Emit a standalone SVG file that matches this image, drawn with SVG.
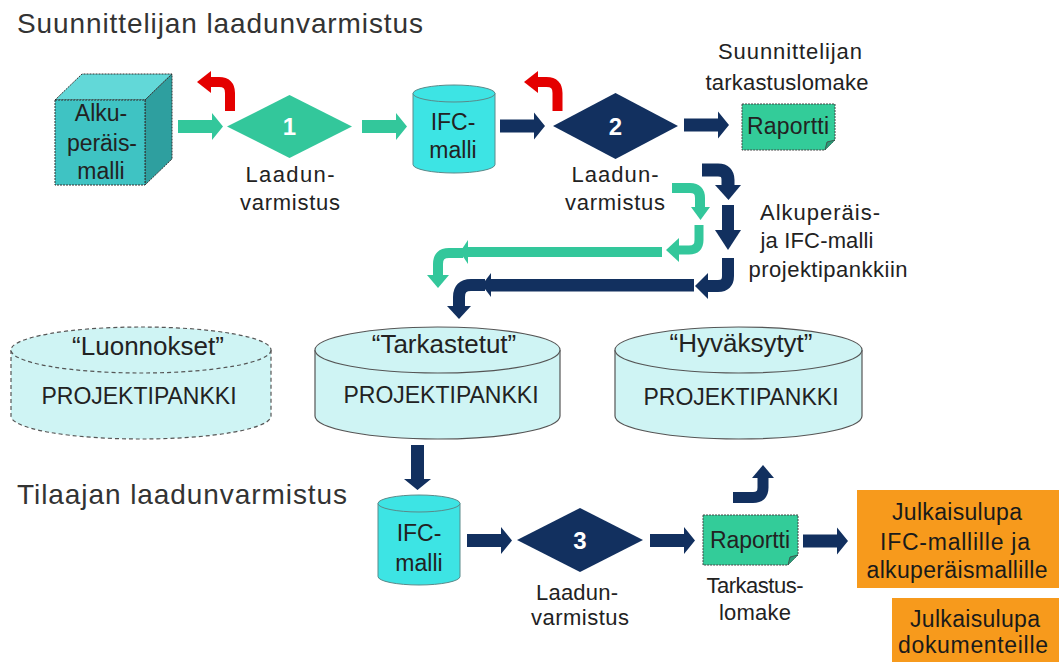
<svg xmlns="http://www.w3.org/2000/svg" xmlns:xlink="http://www.w3.org/1999/xlink" width="1059" height="662" viewBox="0 0 1059 662">
  <style>
    text { font-family: "Liberation Sans", Arial, sans-serif; fill: #222; }
    .title { font-size: 28px; fill: #333; }
    .lbl { font-size: 22px; text-anchor: middle; }
    .lbl2 { font-size: 23px; text-anchor: middle; }
    .num { font-size: 24px; font-weight: bold; fill: #fff; text-anchor: middle; }
    .bank { font-size: 26px; text-anchor: middle; }
    .bankname { font-size: 23px; text-anchor: middle; }
    .orange { fill: #f79a1c; }
    .ortext { font-size: 23px; text-anchor: middle; fill: #1a1a1a; }
    .cyl { fill: #3de4e4; stroke: #5a8a8a; stroke-width: 1; }
    .bankcyl { fill: #cff4f4; stroke: #555; stroke-width: 1.2; }
    .dash { stroke-dasharray: 4 3; }
    .green { fill: #33c79b; }
    .navy { fill: #12305f; }
    .red { fill: #e40000; }
    .gs { fill: none; stroke: #33c79b; stroke-linecap: butt; }
    .ns { fill: none; stroke: #12305f; stroke-linecap: butt; }
    .rs { fill: none; stroke: #e40000; stroke-linecap: butt; }
    .report { fill: #33cc99; stroke: #444; stroke-width: 1; stroke-dasharray: 2 1; }
  </style>
  <defs>
    <!-- straight block arrow pointing right, origin at tail centre -->
    <path id="arr" d="M0,-6.5 H34 V-13.5 L45,0 L34,13.5 V6.5 H0 Z"/>
  </defs>

  <!-- headings -->
  <text class="title" x="17" y="33" textLength="406">Suunnittelijan laadunvarmistus</text>
  <text class="title" x="17" y="504" textLength="330">Tilaajan laadunvarmistus</text>

  <!-- original model cube -->
  <g id="cube">
    <polygon points="55,100 82,74 172,74 145,100" fill="#62d8d8" stroke="#333" stroke-width="1" stroke-dasharray="2 1"/>
    <polygon points="145,100 172,74 172,159 145,185" fill="#2e9f9f" stroke="#333" stroke-width="1" stroke-dasharray="2 1"/>
    <rect x="55" y="100" width="90" height="85" fill="#3fc3c3" stroke="#333" stroke-width="1" stroke-dasharray="2 1"/>
    <text class="lbl2" x="101" y="121">Alku-</text>
    <text class="lbl2" x="102" y="151" textLength="70">peräis-</text>
    <text class="lbl2" x="101" y="179">malli</text>
  </g>

  <!-- quality check 1 -->
  <g id="check1">
    <polygon points="227,126.5 289.5,95 352,126.5 289.5,158" class="green"/>
    <text class="num" x="289.5" y="135">1</text>
    <text class="lbl" x="290" y="182" textLength="89">Laadun-</text>
    <text class="lbl" x="290" y="210" textLength="100">varmistus</text>
  </g>

  <!-- IFC model (designer) -->
  <g id="ifc1">
    <path class="cyl" d="M413,93.5 V164.5 A41,8.5 0 0 0 495,164.5 V93.5"/>
    <ellipse class="cyl" cx="454" cy="93.5" rx="41" ry="8.5"/>
    <text class="lbl2" x="453" y="130">IFC-</text>
    <text class="lbl2" x="453" y="158">malli</text>
  </g>

  <!-- quality check 2 -->
  <g id="check2">
    <polygon points="553,126 615.5,93 678,126 615.5,159" class="navy"/>
    <text class="num" x="615.5" y="135">2</text>
    <text class="lbl" x="615" y="182" textLength="87">Laadun-</text>
    <text class="lbl" x="615" y="210" textLength="100">varmistus</text>
  </g>

  <!-- designer report -->
  <g id="report1">
    <path class="report" d="M742,104 H835 V140 L825,150 H742 Z"/>
    <path d="M825,150 L827,142 L835,140" fill="#2a9a77" stroke="#444" stroke-width="0.8"/>
    <text class="lbl2" x="788" y="134" textLength="82">Raportti</text>
    <text class="lbl" x="790" y="59" textLength="144">Suunnittelijan</text>
    <text class="lbl" x="787" y="90" textLength="163">tarkastuslomake</text>
  </g>

  <!-- transfer note -->
  <g id="transfer-note">
    <text class="lbl" x="820" y="220" textLength="120">Alkuperäis-</text>
    <text class="lbl" x="817" y="248" textLength="113">ja IFC-malli</text>
    <text class="lbl" x="828" y="277" textLength="159">projektipankkiin</text>
  </g>

  <!-- project banks -->
  <g id="bank-drafts">
    <path class="bankcyl dash" d="M11,350 V416 A130,23 0 0 0 271,416 V350"/>
    <ellipse class="bankcyl dash" cx="141" cy="350" rx="130" ry="23"/>
    <text class="bank" x="148" y="355">“Luonnokset”</text>
    <text class="bankname" x="139" y="404">PROJEKTIPANKKI</text>
  </g>
  <g id="bank-checked">
    <path class="bankcyl" d="M315,350 V416 A122.5,23 0 0 0 560,416 V350"/>
    <ellipse class="bankcyl" cx="437.5" cy="350" rx="122.5" ry="23"/>
    <text class="bank" x="444" y="353">“Tarkastetut”</text>
    <text class="bankname" x="441" y="403">PROJEKTIPANKKI</text>
  </g>
  <g id="bank-approved">
    <path class="bankcyl" d="M615,350 V416 A123.5,23 0 0 0 862,416 V350"/>
    <ellipse class="bankcyl" cx="738.5" cy="350" rx="123.5" ry="23"/>
    <text class="bank" x="741" y="352">“Hyväksytyt”</text>
    <text class="bankname" x="741" y="405">PROJEKTIPANKKI</text>
  </g>

  <!-- IFC model (client) -->
  <g id="ifc2">
    <path class="cyl" d="M378,503.5 V576.5 A41,8.5 0 0 0 460,576.5 V503.5"/>
    <ellipse class="cyl" cx="419" cy="503.5" rx="41" ry="8.5"/>
    <text class="lbl2" x="419" y="541">IFC-</text>
    <text class="lbl2" x="419" y="571">malli</text>
  </g>

  <!-- quality check 3 -->
  <g id="check3">
    <polygon points="517,540 580,508 643,540 580,572" class="navy"/>
    <text class="num" x="580" y="549">3</text>
    <text class="lbl" x="577" y="600" textLength="82">Laadun-</text>
    <text class="lbl" x="580" y="625" textLength="98">varmistus</text>
  </g>

  <!-- client report -->
  <g id="report2">
    <path class="report" d="M703,515 H798 V555 L788,565 H703 Z"/>
    <path d="M788,565 L790,557 L798,555" fill="#2a9a77" stroke="#444" stroke-width="0.8"/>
    <text class="lbl2" x="750" y="548" textLength="80">Raportti</text>
    <text class="lbl" x="755" y="593" textLength="97">Tarkastus-</text>
    <text class="lbl" x="755" y="620" textLength="72">lomake</text>
  </g>

  <!-- publication permits -->
  <g id="permit-models">
    <rect class="orange" x="857" y="490" width="202" height="98"/>
    <text class="ortext" x="957" y="520" textLength="130">Julkaisulupa</text>
    <text class="ortext" x="955" y="550" textLength="150">IFC-mallille ja</text>
    <text class="ortext" x="957" y="578" textLength="181">alkuperäismallille</text>
  </g>
  <g id="permit-docs">
    <rect class="orange" x="892" y="598" width="167" height="64"/>
    <text class="ortext" x="975" y="627" textLength="130">Julkaisulupa</text>
    <text class="ortext" x="973" y="653" textLength="150">dokumenteille</text>
  </g>

  <!-- connectors -->
  <g id="connectors">
    <!-- straight block arrows -->
    <use href="#arr" class="green" transform="translate(178,126.5)"/>
    <use href="#arr" class="green" transform="translate(362,126.5)"/>
    <use href="#arr" class="navy" transform="translate(500,126)"/>
    <use href="#arr" class="navy" transform="translate(684,125)"/>
    <use href="#arr" class="navy" transform="translate(417.5,445) rotate(90)"/>
    <use href="#arr" class="navy" transform="translate(467,540.5)"/>
    <use href="#arr" class="navy" transform="translate(650,540.5)"/>
    <use href="#arr" class="navy" transform="translate(803,541)"/>

    <!-- rejection arrows -->
    <path class="rs" stroke-width="10" d="M230,111 V93 Q230,82 219,82 H210"/>
    <polygon class="red" points="211,71 211,93 197,82"/>
    <path class="rs" stroke-width="10" d="M557.5,111 V93 Q557.5,82 546.5,82 H537"/>
    <polygon class="red" points="538,71 538,93 524,82"/>

    <!-- navy route to checked bank -->
    <path class="ns" stroke-width="13" d="M702,170 H718 Q728,170 728,180 V186"/>
    <polygon class="navy" points="715,185 741,185 728.5,200"/>
    <rect class="navy" x="722" y="205" width="12" height="26"/>
    <polygon class="navy" points="715,230 741,230 728,250"/>
    <path class="ns" stroke-width="12" d="M728,258 V276 Q728,286 718,286 H707"/>
    <polygon class="navy" points="708,273 708,299 695,286"/>
    <rect class="navy" x="490" y="279" width="204" height="12.5"/>
    <polygon class="navy" points="491,273 491,297 482,285"/>
    <path class="ns" stroke-width="12" d="M485,285 H471 Q459,285 459,297 V307"/>
    <polygon class="navy" points="447,306 471,306 459,319"/>

    <!-- green route to draft bank -->
    <path class="gs" stroke-width="10" d="M672,188 H690 Q700,188 700,198 V208"/>
    <polygon class="green" points="691,207 710,207 700.5,220"/>
    <path class="gs" stroke-width="9" d="M699,225 V240 Q699,250 689,250 H678"/>
    <polygon class="green" points="679,238 679,262 666,250"/>
    <rect class="green" x="467" y="247" width="195" height="10"/>
    <polygon class="green" points="468,240 468,264 460,252"/>
    <path class="gs" stroke-width="10" d="M463,253 H449 Q438,253 438,264 V276"/>
    <polygon class="green" points="427,275 449,275 438,288"/>

    <!-- approval arrow up to approved bank -->
    <path class="ns" stroke-width="11" d="M733,497.5 H753 Q763,497.5 763,487.5 V477"/>
    <polygon class="navy" points="752,478 774,478 763,465"/>
  </g>
</svg>
